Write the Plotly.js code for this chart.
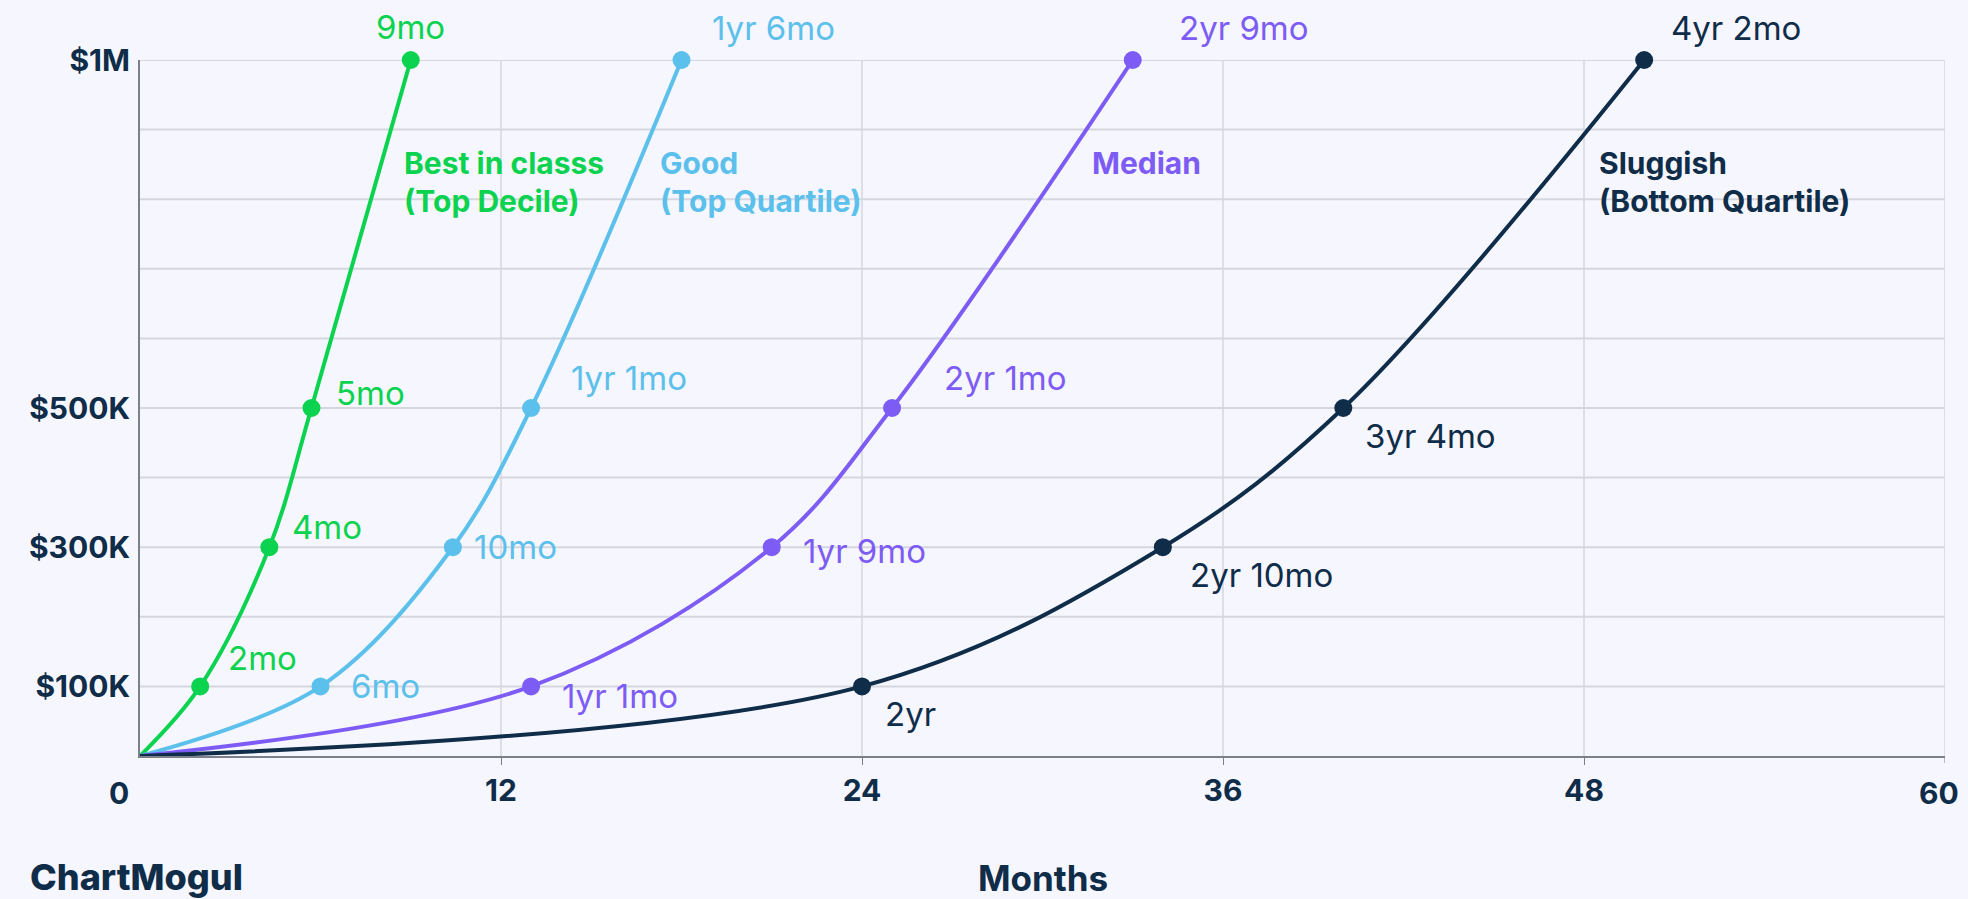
<!DOCTYPE html>
<html>
<head>
<meta charset="utf-8">
<script src="https://cdn.plot.ly/plotly-3.0.1.min.js"></script>
<style>
  html, body { margin: 0; padding: 0; background: #F5F6FE; }
  #chart { width: 1968px; height: 899px; }
</style>
</head>
<body>
<div id="chart"></div>
<script>
// ARR milestones (USD) and months each cohort takes to reach them
const arrMilestones = [0, 100000, 300000, 500000, 1000000];

const topDecileMonths      = [0, 2, 4.3, 5.7, 9];
const topQuartileMonths    = [0, 6, 10.4, 13, 18];
const medianMonths         = [0, 13, 21, 25, 33];
const bottomQuartileMonths = [0, 24, 34, 40, 50];

const topDecileLabels      = ['', '2mo', '4mo', '5mo', '9mo'];
const topQuartileLabels    = ['', '6mo', '10mo', '1yr 1mo', '1yr 6mo'];
const medianLabels         = ['', '1yr 1mo', '1yr 9mo', '2yr 1mo', '2yr 9mo'];
const bottomQuartileLabels = ['', '2yr', '2yr 10mo', '3yr 4mo', '4yr 2mo'];

const cohortNames = [
  ['Best in classs', '(Top Decile)'],
  ['Good', '(Top Quartile)'],
  ['Median'],
  ['Sluggish', '(Bottom Quartile)']
];

const yTickVals = [100000, 300000, 500000, 1000000];
const yTickText = ['$100K', '$300K', '$500K', '$1M'];
const xTickVals = [12, 24, 36, 48];
const xEndTicks = [0, 60];

// ---- styling / placement ----
const W = 1968, H = 899;
const M = { l: 140, r: 23, t: 60, b: 143 };
const plotW = W - M.l - M.r, plotH = H - M.t - M.b;
const FONT = 'Inter, "Noto Sans", sans-serif';
const NAVY = '#0F2C48';

const cohorts = [
  { months: topDecileMonths, labels: topDecileLabels, color: '#0CD34F',
    offsets: [null, [26, 28], [21, 20], [23, 15], [0, 33, 'center']],
    nameAt: [8.72, 852000] },
  { months: topQuartileMonths, labels: topQuartileLabels, color: '#5BC0EB',
    offsets: [null, [28, 0], [19, 0], [38, 30], [28, 32]],
    nameAt: [17.22, 852000] },
  { months: medianMonths, labels: medianLabels, color: '#7D5CF5',
    offsets: [null, [29, -10], [29, -4], [50, 30], [44, 32]],
    nameAt: [31.57, 852000] },
  { months: bottomQuartileMonths, labels: bottomQuartileLabels, color: NAVY,
    offsets: [null, [21, -28], [25, -28], [20, -28], [25, 32]],
    nameAt: [48.42, 852000] }
];

const traces = cohorts.map(c => ({
  x: c.months,
  y: arrMilestones,
  type: 'scatter',
  mode: 'lines+markers',
  line: { color: c.color, width: 4, shape: 'spline', smoothing: 1 },
  marker: { color: c.color, opacity: 1, line: { width: 0 },
            size: c.months.map((m, i) => i === 0 ? 0 : 18) },
  hoverinfo: 'skip',
  cliponaxis: false
}));

const annotations = [];
cohorts.forEach((c, ci) => {
  c.months.forEach((m, i) => {
    const off = c.offsets[i];
    if (!off) return;
    annotations.push({
      x: m, y: arrMilestones[i], xref: 'x', yref: 'y',
      text: c.labels[i], showarrow: false,
      xanchor: off[2] || 'left', yanchor: 'middle',
      xshift: off[0], yshift: off[1],
      font: { family: FONT, size: 33, color: c.color }
    });
  });
  cohortNames[ci].forEach((line, li) => {
    annotations.push({
      x: c.nameAt[0], y: c.nameAt[1], xref: 'x', yref: 'y',
      text: line, showarrow: false, xanchor: 'left', yanchor: 'middle',
      yshift: -li * 38,
      font: { family: FONT, size: 30, weight: 700, color: c.color }
    });
  });
});

// end labels of the month axis sit slightly inside the frame
xEndTicks.forEach((v, i) => {
  annotations.push({
    x: v, y: 0, xref: 'x', yref: 'paper',
    text: String(v), showarrow: false, xanchor: 'center', yanchor: 'middle',
    xshift: i === 0 ? -21 : -6, yshift: -37,
    font: { family: FONT, size: 30, weight: 700, color: NAVY }
  });
});

// axis title and brand mark below the plot
annotations.push({
  x: 0.5, y: -(878 - (H - M.b)) / plotH,
  xref: 'paper', yref: 'paper', text: 'Months', showarrow: false,
  xanchor: 'center', yanchor: 'middle',
  font: { family: FONT, size: 35, weight: 700, color: NAVY }
});
annotations.push({
  x: (28 - M.l) / plotW, y: -(877 - (H - M.b)) / plotH,
  xref: 'paper', yref: 'paper', text: 'ChartMogul', showarrow: false,
  xanchor: 'left', yanchor: 'middle',
  font: { family: FONT, size: 36, weight: 800, color: NAVY }
});

const layout = {
  width: W, height: H,
  margin: M,
  paper_bgcolor: '#F5F6FE',
  plot_bgcolor: '#F5F6FE',
  showlegend: false,
  xaxis: {
    range: [0, 60], tickvals: xTickVals, ticktext: xTickVals.map(String),
    showgrid: false, zeroline: false,
    showline: true, linecolor: '#7C808A', linewidth: 2,
    ticks: 'outside', ticklen: 7, tickwidth: 1, tickcolor: '#7C808A',
    tickfont: { family: FONT, size: 30, weight: 700, color: NAVY },
    fixedrange: true
  },
  yaxis: {
    range: [0, 1000000], tickvals: yTickVals, ticktext: yTickText,
    showgrid: false, zeroline: false,
    showline: true, linecolor: '#7C808A', linewidth: 2,
    ticks: '', ticklabelstandoff: 2,
    tickfont: { family: FONT, size: 30, weight: 700, color: NAVY },
    fixedrange: true
  },
  shapes: [],
  annotations: annotations
};

// horizontal grid every $100K, vertical grid every 12 months
for (let v = 100000; v <= 1000000; v += 100000) {
  layout.shapes.push({ type: 'line', xref: 'paper', yref: 'y', x0: 0, x1: 1, y0: v, y1: v,
    line: { color: '#D6D7DE', width: 2 }, layer: 'below' });
}
for (let m = 12; m <= 60; m += 12) {
  layout.shapes.push({ type: 'line', xref: 'x', yref: 'paper', x0: m, x1: m, y0: 0, y1: 1,
    line: { color: '#D6D7DE', width: 1.5 }, layer: 'below' });
}
xEndTicks.slice(1).forEach(v => {
  layout.shapes.push({ type: 'line', xref: 'x', yref: 'paper', x0: v, x1: v, y0: 0, y1: -0.01,
    line: { color: '#7C808A', width: 1 } });
});

Plotly.newPlot('chart', traces, layout, { staticPlot: true, displayModeBar: false });
</script>
</body>
</html>
